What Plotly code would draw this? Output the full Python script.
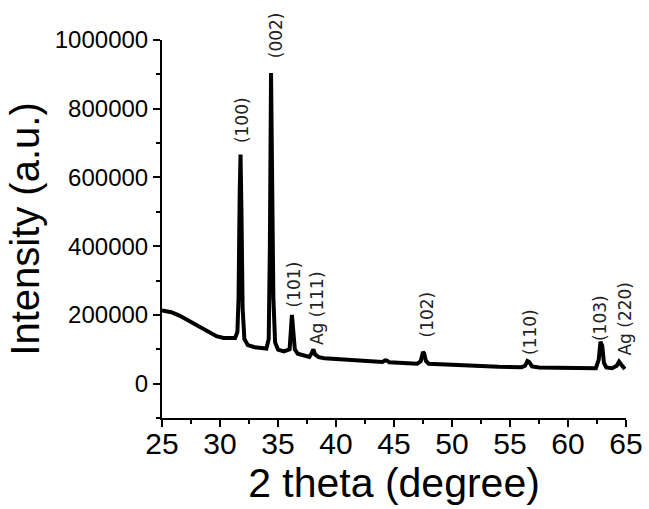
import plotly.graph_objects as go

two_theta = [25.0, 25.8, 26.5, 27.3, 28.0, 28.5, 29.0, 29.7, 30.3, 31.0, 31.3, 31.5,
             31.6, 31.7, 31.77, 31.85, 31.95, 32.1, 32.4, 33.0, 33.6, 34.0, 34.2,
             34.3, 34.4, 34.47, 34.52, 34.6, 34.75, 35.0, 35.5, 36.0, 36.1, 36.2,
             36.3, 36.45, 36.7, 37.2, 37.7, 37.9, 38.05, 38.2, 38.5, 39.0, 40.0,
             41.0, 42.0, 43.0, 44.0, 44.25, 44.4, 44.6, 45.0, 46.0, 47.0, 47.3,
             47.5, 47.6, 47.75, 48.0, 49.0, 50.0, 52.0, 54.0, 56.0, 56.3, 56.5,
             56.65, 56.9, 57.5, 59.0, 61.0, 62.4, 62.65, 62.8, 62.95, 63.1, 63.3,
             63.8, 64.2, 64.4, 64.6, 64.9]
intensity = [213000, 208000, 198000, 183000, 168000, 160000, 150000, 138000, 133000, 131000, 133000, 150000,
             250000, 560000, 667000, 500000, 220000, 130000, 112000, 106000, 104000, 102000, 130000,
             400000, 904000, 700000, 520000, 250000, 120000, 99000, 94000, 100000, 150000, 200000,
             160000, 100000, 87000, 82000, 78000, 88000, 100000, 85000, 77000, 74000, 72000,
             70000, 68000, 66000, 63000, 68000, 67000, 62000, 61000, 59000, 58000, 65000,
             92000, 88000, 66000, 58000, 56000, 54000, 51000, 49000, 48000, 52000, 66000,
             63000, 50000, 47000, 46000, 45000, 45000, 70000, 122000, 110000, 60000, 47000,
             45000, 52000, 64000, 55000, 43000]

# peak labels and their (x, intensity) label centres
peak_labels = ["(100)", "(002)", "(101)", "Ag (111)", "(102)", "(110)", "(103)", "Ag (220)"]
label_x = [31.9, 34.83, 36.42, 38.36, 47.84, 56.77, 62.76, 64.83]
label_y = [767000, 1014000, 290000, 220000, 201000, 149000, 191000, 189500]

x_ticks = [25, 30, 35, 40, 45, 50, 55, 60, 65]
y_ticks = [0, 200000, 400000, 600000, 800000, 1000000]
x_range = [25, 65]
y_range = [-100000, 1000000]

fig = go.Figure()
fig.add_trace(go.Scatter(x=two_theta, y=intensity, mode="lines",
                         line=dict(color="black", width=4), showlegend=False))

for txt, lx, ly in zip(peak_labels, label_x, label_y):
    # vertical position in paper units so labels above the y range stay visible
    py = (ly - y_range[0]) / (y_range[1] - y_range[0])
    fig.add_annotation(x=lx, y=py, xref="x", yref="paper", text=txt, textangle=-90,
                       showarrow=False, xanchor="center", yanchor="middle",
                       font=dict(family="DejaVu Sans", size=17, color="#222222"))

fig.update_layout(
    width=649, height=509,
    margin=dict(l=162, r=23, t=40, b=91, autoexpand=False),
    paper_bgcolor="white", plot_bgcolor="white",
    font=dict(family="Liberation Sans", color="black"),
    xaxis=dict(range=x_range, tickvals=x_ticks, ticktext=[str(v) for v in x_ticks],
               ticks="outside", ticklen=7, tickwidth=1.5, tickcolor="black",
               showline=True, linewidth=2, linecolor="black", showgrid=False, zeroline=False,
               minor=dict(dtick=2.5, tick0=25, ticks="outside", ticklen=4, tickwidth=1.5, tickcolor="black"),
               tickfont=dict(size=30), automargin=False, ticklabelstandoff=-9,
               title=dict(text="2 theta (degree)", font=dict(size=41), standoff=0)),
    yaxis=dict(range=y_range, tickvals=y_ticks, ticktext=[str(v) for v in y_ticks],
               ticks="outside", ticklen=7, tickwidth=1.5, tickcolor="black",
               showline=True, linewidth=2, linecolor="black", showgrid=False, zeroline=False,
               minor=dict(dtick=100000, tick0=0, ticks="outside", ticklen=4, tickwidth=1.5, tickcolor="black"),
               tickfont=dict(size=24), automargin=False,
               title=dict(text="Intensity (a.u.)", font=dict(size=40), standoff=3)),
)

# remove the default page margin so the figure sits at the window's top-left corner
fig.write_html("out.html", config={"displayModeBar": False},
               post_script="document.body.style.margin='0';")
